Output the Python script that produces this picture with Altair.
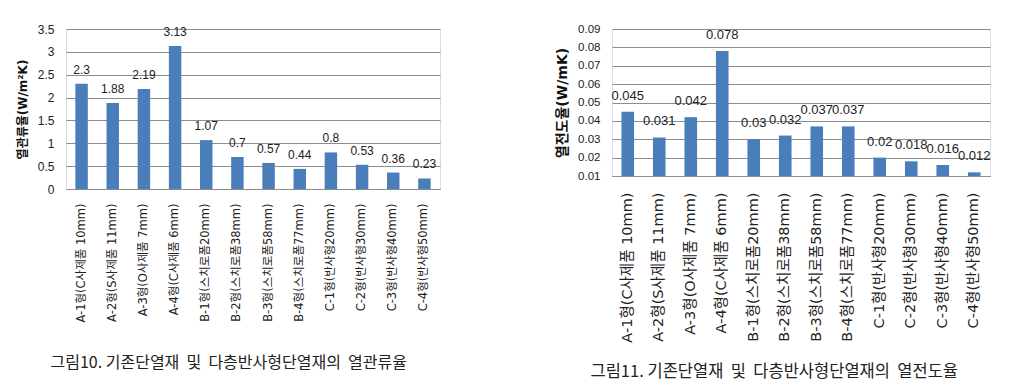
import altair as alt
import pandas as pd

categories = [
    "A-1형(C사제품 10mm)", "A-2형(S사제품 11mm)", "A-3형(O사제품 7mm)", "A-4형(C사제품 6mm)",
    "B-1형(스치로폼20mm)", "B-2형(스치로폼38mm)", "B-3형(스치로폼58mm)", "B-4형(스치로폼77mm)",
    "C-1형(반사형20mm)", "C-2형(반사형30mm)", "C-3형(반사형40mm)", "C-4형(반사형50mm)",
]
u_values = [2.3, 1.88, 2.19, 3.13, 1.07, 0.7, 0.57, 0.44, 0.8, 0.53, 0.36, 0.23]
k_values = [0.045, 0.031, 0.042, 0.078, 0.03, 0.032, 0.037, 0.037, 0.02, 0.018, 0.016, 0.012]
u_labels = ["2.3", "1.88", "2.19", "3.13", "1.07", "0.7", "0.57", "0.44", "0.8", "0.53", "0.36", "0.23"]
k_labels = ["0.045", "0.031", "0.042", "0.078", "0.03", "0.032", "0.037", "0.037", "0.02", "0.018", "0.016", "0.012"]
u_ticks = [0, 0.5, 1, 1.5, 2, 2.5, 3, 3.5]
k_ticks = [0.01, 0.02, 0.03, 0.04, 0.05, 0.06, 0.07, 0.08, 0.09]

left_title = "열관류율(W/m²K)"
right_title = "열전도율(W/mK)"
NB = "\u00a0\u00a0"
left_caption = f"그림10. 기존단열재{NB}및{NB}다층반사형단열재의{NB}열관류율"
right_caption = f"그림11. 기존단열재{NB}및{NB}다층반사형단열재의{NB}열전도율"

FONT = "DejaVu Sans, Noto Sans CJK KR"
NUMFONT = "Liberation Sans"
CAPFONT = "Noto Sans CJK KR"
BAR = "#4a7ebb"
GRID = "#8c8c8c"

df_u = pd.DataFrame({"cat": categories, "v": u_values, "lab": u_labels})
df_k = pd.DataFrame({"cat": categories, "v": k_values, "lab": k_labels})


def panel(df, width, height, domain, ticks, fmt, ytitle, caption, lab_size, tick_size,
          val_size, lab_pad, cap_y, cap_dx, cap_size, dy, ytitle_size):
    x = alt.X("cat:N", sort=categories, title=caption,
              scale=alt.Scale(paddingInner=0.6, paddingOuter=0.3),
              axis=alt.Axis(labelAngle=-90, labelFontSize=lab_size, labelFont=FONT,
                            labelColor="#222", ticks=False, labelPadding=lab_pad,
                            domainColor=GRID, labelLimit=300,
                            titleX=cap_dx, titleY=cap_y, titleAlign="left",
                            titleAnchor="start", titleBaseline="middle",
                            titleFont=CAPFONT, titleFontSize=cap_size,
                            titleFontWeight="normal", titleColor="#222"))
    y = alt.Y("v:Q", title=ytitle,
              scale=alt.Scale(domain=domain, zero=False, nice=False),
              axis=alt.Axis(values=ticks, format=fmt, ticks=False, domain=False,
                            gridColor=GRID, labelOverlap=False,
                            labelFontSize=tick_size, labelFont=NUMFONT, labelColor="#222",
                            labelPadding=12, titleFont=FONT, titleFontSize=ytitle_size,
                            titleFontWeight="bold", titlePadding=8, titleColor="#111"))
    bars = alt.Chart(df).mark_bar(color=BAR).encode(x=x, y=y, y2=alt.datum(domain[0]))
    text = alt.Chart(df).mark_text(baseline="bottom", dy=dy, fontSize=val_size,
                                   font=NUMFONT, color="#222").encode(x=x, y=y, text="lab:N")
    return alt.layer(bars, text).properties(width=width, height=height)


left = panel(df_u, 374, 160, [0, 3.5], u_ticks, "", left_title, left_caption,
             11.5, 12, 12, 14, 173, -16, 16, -7, 12)
right = panel(df_k, 378, 147, [0.01, 0.09], k_ticks, ".2f", right_title, right_caption,
              14.5, 11.5, 13, 16, 195, -22, 16.5, -9, 14)

chart = alt.hconcat(left, right, spacing=172, bounds="flush").properties(
    padding={"left": 7, "top": 14, "right": 5, "bottom": 5}
).configure_view(stroke=GRID).configure(background="white")

chart.save("out.html", embed_options={"renderer": "svg", "actions": False})
